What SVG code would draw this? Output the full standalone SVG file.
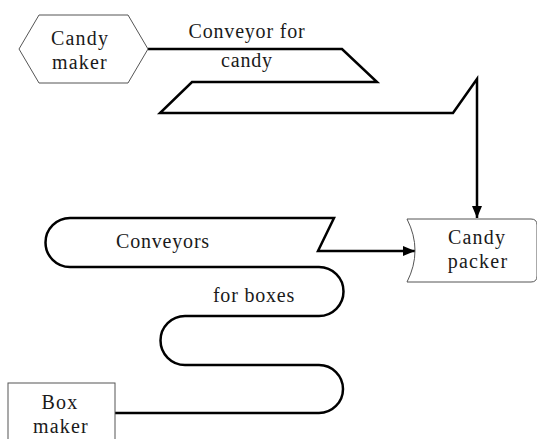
<svg xmlns="http://www.w3.org/2000/svg" width="537" height="439" viewBox="0 0 537 439">
<defs>
<marker id="arr" markerUnits="userSpaceOnUse" markerWidth="12" markerHeight="10" refX="12" refY="5" orient="auto">
<path d="M0,0 L12,5 L0,10 Z" fill="#000"/>
</marker>
<style>
.node{fill:#fff;stroke:#555;stroke-width:1}
.conv{fill:none;stroke:#000;stroke-width:2.5;stroke-linejoin:miter}
.t{font-family:"Liberation Serif","Times New Roman",serif;font-size:20px;fill:#1a1a1a;text-anchor:middle;letter-spacing:0.8px}
.n{letter-spacing:1.2px}
</style>
</defs>
<rect width="537" height="439" fill="#fff"/>
<g id="connectors">
<path class="conv" d="M148,49 H342 L377,82 H192 L160,113 H453 L477,79 V218" marker-end="url(#arr)"/>
<path class="conv" d="M115,413 H319 A24,24 0 0 0 319,365 H185 A24.5,24.5 0 0 1 185,316 H319 A24.5,24.5 0 0 0 319,267 H70 A24.5,24.5 0 0 1 70,218 H334 L318,251 H415" marker-end="url(#arr)"/>
</g>
<g id="candy-maker">
<polygon class="node" points="19,49 39,15 128,15 148,49 128,83 39,83"/>
<text class="t n" x="80" y="45">Candy</text>
<text class="t n" x="80" y="69">maker</text>
</g>
<g id="candy-packer">
<path class="node" d="M407,219 H531 Q537,219 537,225 V276 Q537,282 531,282 H407 Q423,250.5 407,219 Z"/>
<text class="t n" x="477" y="244">Candy</text>
<text class="t n" x="478" y="268">packer</text>
</g>
<g id="box-maker">
<rect class="node" x="8" y="383" width="107" height="62"/>
<text class="t n" x="60" y="409">Box</text>
<text class="t n" x="61" y="433">maker</text>
</g>
<g id="labels">
<text class="t" x="247" y="38">Conveyor for</text>
<text class="t" x="247" y="67">candy</text>
<text class="t" x="163" y="248">Conveyors</text>
<text class="t" x="254" y="302">for boxes</text>
</g>
</svg>
